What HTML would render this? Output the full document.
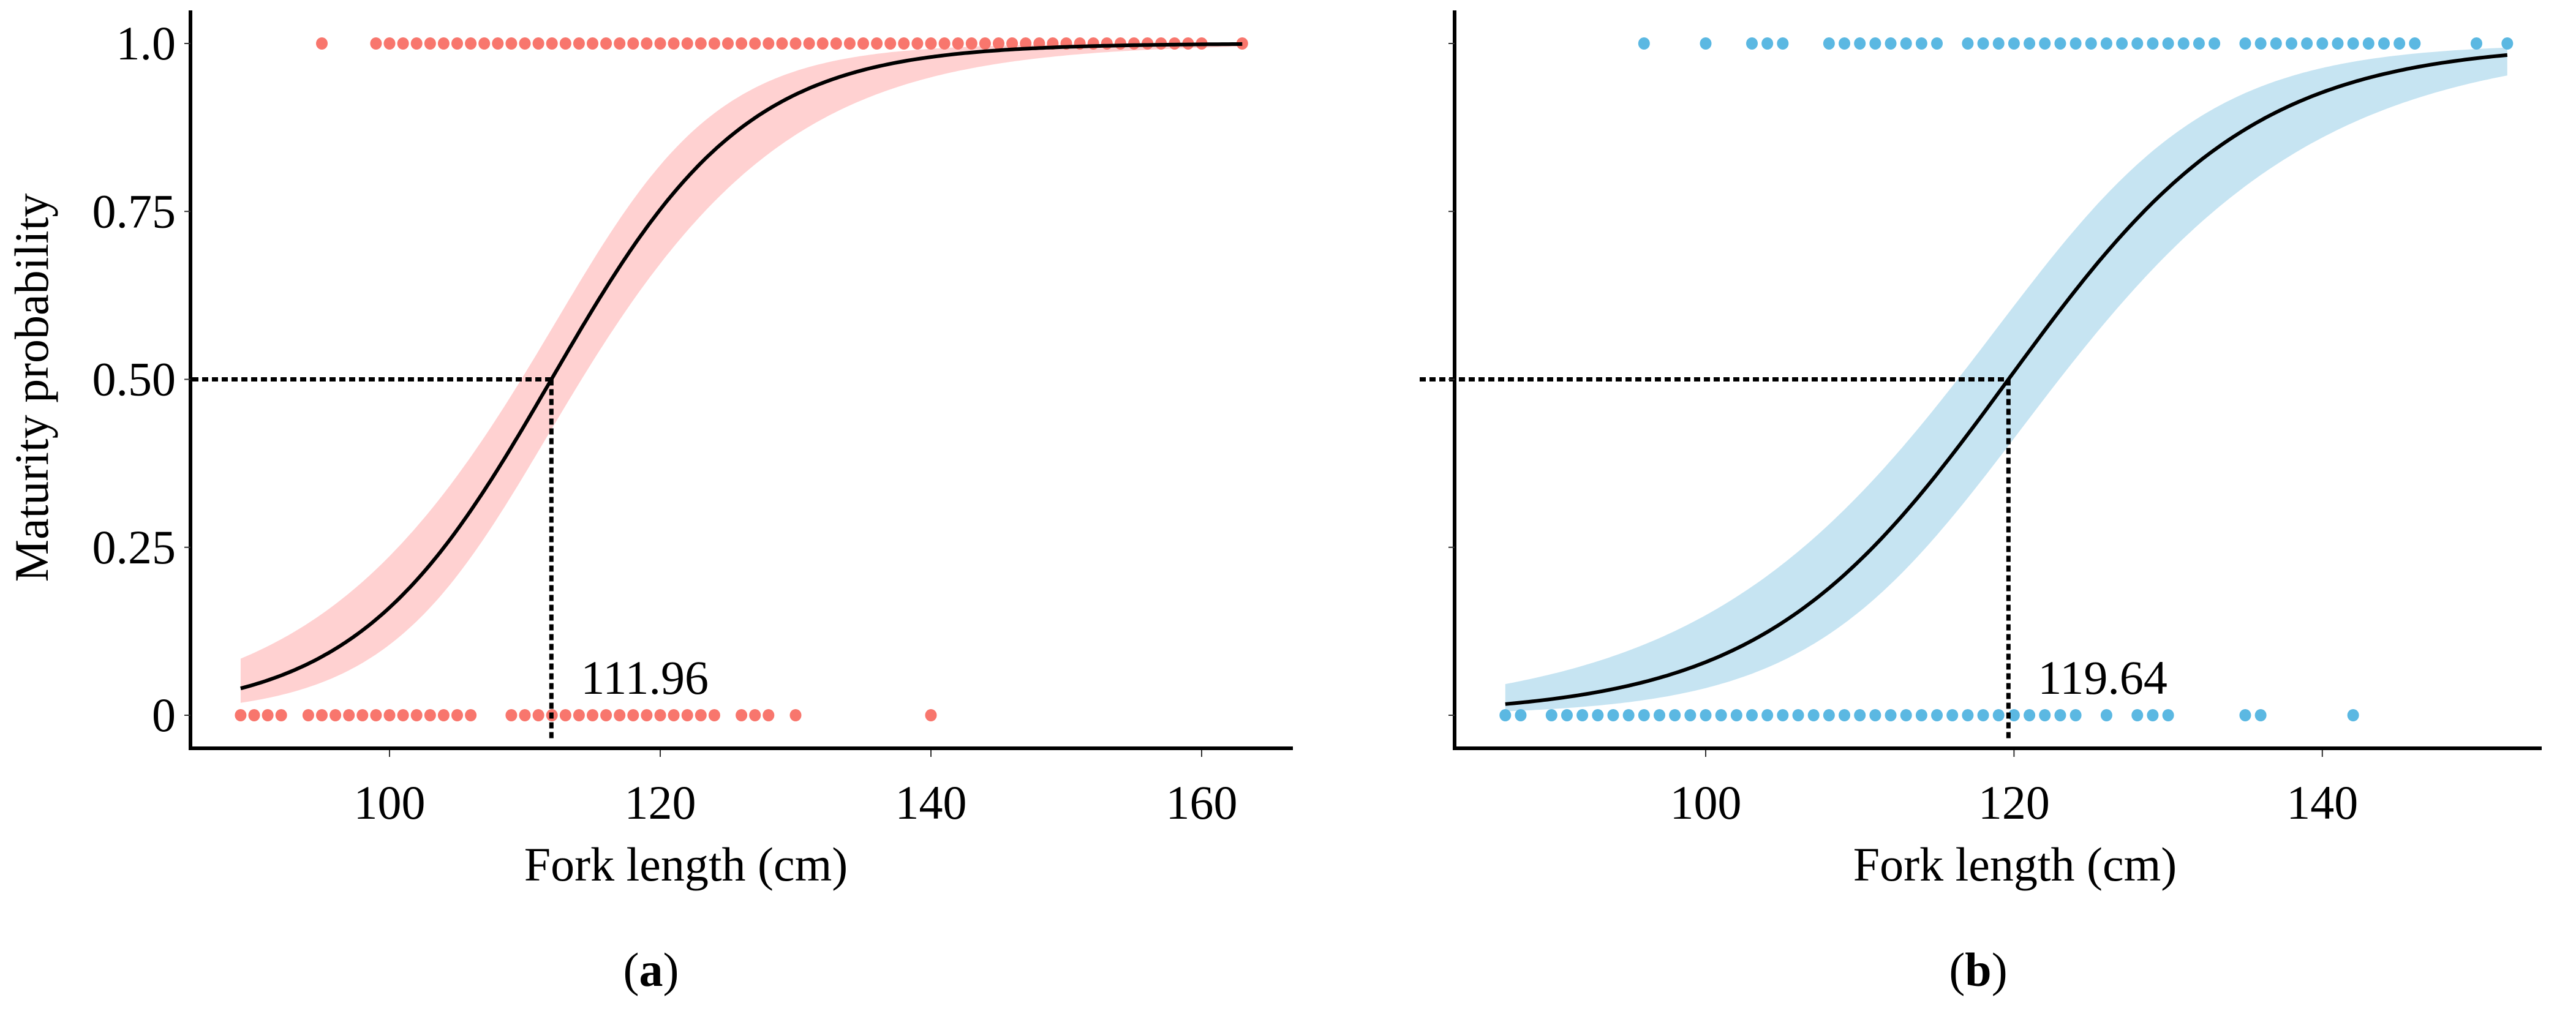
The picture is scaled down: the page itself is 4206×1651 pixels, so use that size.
<!DOCTYPE html>
<html><head><meta charset="utf-8"><style>
html,body{margin:0;padding:0;background:#fff;}
svg text{font-family:"Liberation Serif",serif;fill:#000;}
</style></head><body>
<svg id="chart" width="4206" height="1646" viewBox="0 0 4206 1646" xmlns="http://www.w3.org/2000/svg"></svg>
<script>
// Panel (a) data
const aMature = [95,99,100,101,102,103,104,105,106,107,108,109,110,111,112,113,114,115,116,117,118,119,120,121,122,123,124,125,126,127,128,129,130,131,132,133,134,135,136,137,138,139,140,141,142,143,144,145,146,147,148,149,150,151,152,153,154,155,156,157,158,159,160,163];
const aImmature = [89,90,91,92,94,95,96,97,98,99,100,101,102,103,104,105,106,109,110,111,112,113,114,115,116,117,118,119,120,121,122,123,124,126,127,128,130,140];
const aL50 = 111.96, aSlope = 0.1385, aRange = [89,163];
const aTicks = [100,120,140,160];
// Panel (b) data
const bMature = [96,100,103,104,105,108,109,110,111,112,113,114,115,117,118,119,120,121,122,123,124,125,126,127,128,129,130,131,132,133,135,136,137,138,139,140,141,142,143,144,145,146,150,152];
const bImmature = [87,88,90,91,92,93,94,95,96,97,98,99,100,101,102,103,104,105,106,107,108,109,110,111,112,113,114,115,116,117,118,119,120,121,122,123,124,126,128,129,130,135,136,142];
const bL50 = 119.64, bSlope = 0.125, bRange = [87,152];
const bTicks = [100,120,140];
const yTicks = [0,0.25,0.5,0.75,1.0];
const yTickLabels = ["0","0.25","0.50","0.75","1.0"];

const NS = "http://www.w3.org/2000/svg";
const svg = document.getElementById('chart');
function mk(tag, attrs, parent){const e=document.createElementNS(NS,tag);for(const k in attrs)e.setAttribute(k,attrs[k]);(parent||svg).appendChild(e);return e;}
const yScale = v => 1168 - v*(1168-71);

function panel(cfg){
  const g = mk('g',{});
  
  
  const xs = v => cfg.x100 + (v-100)*cfg.ppu;
  const p = (x,sh) => 1/(1+Math.exp(-(cfg.k*(x-cfg.L50)+sh)));
  const w = d => Math.sqrt(cfg.w0*cfg.w0 + (cfg.w1*d)*(cfg.w1*d));
  let up=[],lo=[];
  for(let x=cfg.range[0];x<=cfg.range[1]+1e-9;x+=0.25){
    const d=x-cfg.L50, l=cfg.k*d;
    up.push(xs(x).toFixed(1)+','+yScale(1/(1+Math.exp(-(l+w(d))))).toFixed(1));
    lo.push(xs(x).toFixed(1)+','+yScale(1/(1+Math.exp(-(l-w(d))))).toFixed(1));
  }
  const band = mk('polygon',{points:up.concat(lo.reverse()).join(' '),fill:cfg.band,stroke:'none'},g);
  
  
  cfg.mature.forEach(v=>{const c=mk('ellipse',{cx:xs(v),cy:yScale(1),rx:9.5,ry:10,fill:cfg.dot},g);
    
    });
  cfg.immature.forEach(v=>{const c=mk('ellipse',{cx:xs(v),cy:yScale(0),rx:9.5,ry:10,fill:cfg.dot},g);
    
    });
  let pts=[];
  for(let x=cfg.range[0];x<=cfg.range[1]+1e-9;x+=0.25) pts.push(xs(x).toFixed(1)+','+yScale(p(x,0)).toFixed(1));
  const cv = mk('polyline',{points:pts.join(' '),fill:'none',stroke:'#000','stroke-width':6},g);
  
  
  const h = mk('line',{x1:cfg.hStart,y1:yScale(0.5),x2:xs(cfg.L50),y2:yScale(0.5),stroke:'#000','stroke-width':7,'stroke-dasharray':'10 6'},g);
  
  
  const vl = mk('line',{x1:xs(cfg.L50),y1:yScale(0.5),x2:xs(cfg.L50),y2:1206,stroke:'#000','stroke-width':7,'stroke-dasharray':'10 6'},g);
  
  
  const t = mk('text',{x:xs(cfg.L50)+48,y:1133,'font-size':78},g); t.textContent=cfg.L50.toFixed(2);
  
  
  const ya = mk('line',{x1:cfg.axisX,y1:17,x2:cfg.axisX,y2:1225,stroke:'#000','stroke-width':6},g);
  
  
  const xa = mk('line',{x1:cfg.axisX-3,y1:1222,x2:cfg.axisEnd,y2:1222,stroke:'#000','stroke-width':6},g);
  
  
  yTicks.forEach((v,i)=>{
    mk('line',{x1:cfg.axisX-10,y1:yScale(v),x2:cfg.axisX,y2:yScale(v),stroke:'#333','stroke-width':2},g);
    if(cfg.yLabels){const tl=mk('text',{x:287,y:yScale(v)+26,'font-size':78,'text-anchor':'end'},g);tl.textContent=yTickLabels[i];
      
      }
  });
  cfg.ticks.forEach(v=>{
    mk('line',{x1:xs(v),y1:1225,x2:xs(v),y2:1236,stroke:'#333','stroke-width':2},g);
    const tl=mk('text',{x:xs(v),y:1337,'font-size':78,'text-anchor':'middle'},g);tl.textContent=v;
    
    
  });
  const xt=mk('text',{x:cfg.titleX,y:1438,'font-size':78,'text-anchor':'middle'},g);xt.textContent='Fork length (cm)';
  
  
  const cap=mk('text',{x:cfg.capX,y:1610,'font-size':78,'text-anchor':'middle'},g);
  cap.innerHTML='(<tspan font-weight="bold">'+cfg.cap+'</tspan>)';
  
  
}
panel({name:'panel-a',mature:aMature,immature:aImmature,L50:aL50,k:aSlope,range:aRange,ticks:aTicks,
  x100:636,ppu:22.1,axisX:311,axisEnd:2111,hStart:314,dot:'#F8766D',band:'#FFD1D1',w0:0.3,w1:0.032,
  yLabels:true,titleX:1120,capX:1063,cap:'a'});
panel({name:'panel-b',mature:bMature,immature:bImmature,L50:bL50,k:bSlope,range:bRange,ticks:bTicks,
  x100:2785,ppu:25.17,axisX:2375,axisEnd:4150,hStart:2318,dot:'#5BB8E2',band:'#C6E4F2',w0:0.4,w1:0.030,
  yLabels:false,titleX:3290,capX:3230,cap:'b'});
const yl = mk('text',{x:0,y:0,'font-size':78,'text-anchor':'middle',transform:'translate(78,633) rotate(-90)'});
yl.textContent='Maturity probability';


</script>
</body></html>
